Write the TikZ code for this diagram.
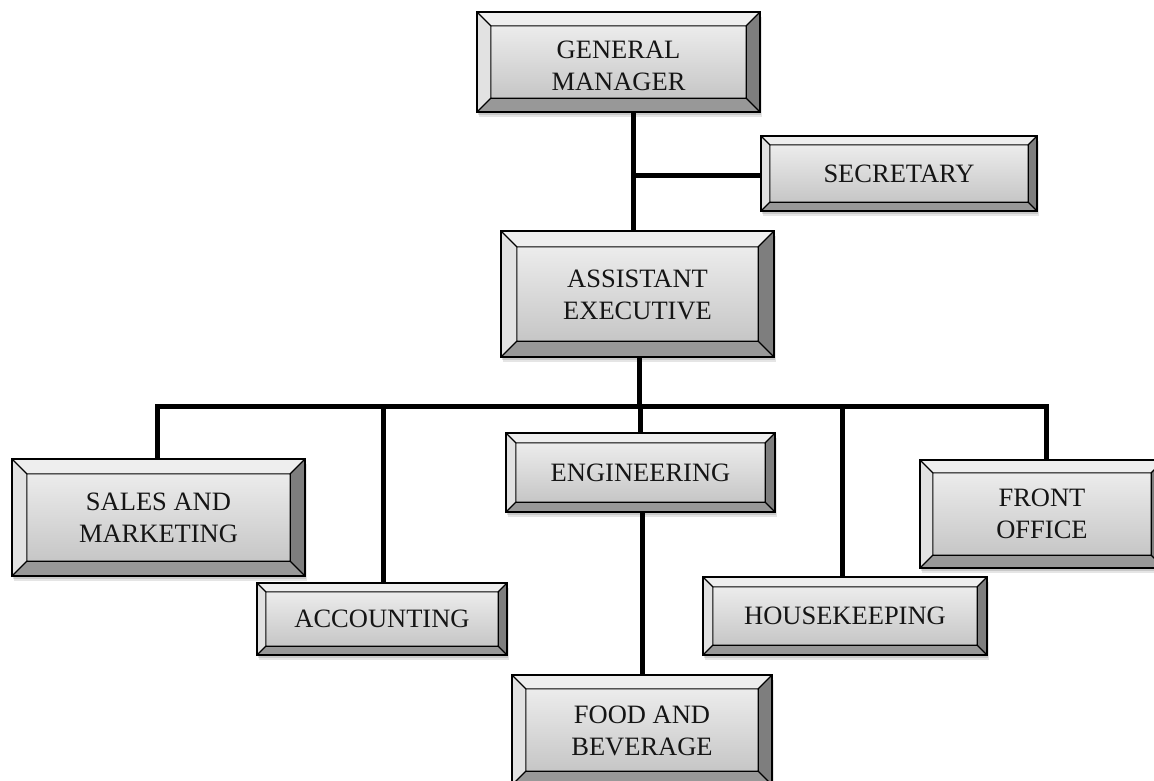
\documentclass[tikz,border=0pt]{standalone}
\usepackage{fontspec}
\setmainfont{Liberation Serif}
\usetikzlibrary{calc,backgrounds}
\pgfdeclarelayer{conn}
\pgfdeclarelayer{bev}
\pgfsetlayers{conn,bev,main}
\definecolor{bvtop}{HTML}{EEEEEE}
\definecolor{bvleft}{HTML}{E2E2E2}
\definecolor{bvright}{HTML}{7E7E7E}
\definecolor{bvbot}{HTML}{989898}
\definecolor{facetop}{HTML}{ECECEC}
\definecolor{facebot}{HTML}{C6C6C6}
\definecolor{txt}{HTML}{151515}
\tikzset{
  boxtext/.style={draw=none, inner sep=0pt, align=center, text=txt,
    font=\fontsize{26.5}{32}\selectfont},
  conn/.style={line width=5pt, line join=miter, draw=black},
  bvline/.style={draw=black, line width=1.1pt, line join=miter},
  bvouter/.style={draw=black, line width=1.6pt, line join=miter}
}
% #1 name, #2,#3 centre, #4 width, #5 height, #6 bevel, #7 text, #8 text shift
\newcommand\bx[8]{%
  \node[boxtext, minimum width=#4pt, minimum height=#5pt, text depth=0pt] (#1) at (#2,#3) {};
  \node[boxtext] (#1-t) at ($(#1.center)+(0,#8)$) {#7};
  \begin{pgfonlayer}{bev}
    \fill[black, opacity=.10] ($(#1.north west)+(2pt,-5pt)$) rectangle ($(#1.south east)+(2pt,-5pt)$);
    \fill[black, opacity=.12] ($(#1.north west)+(1pt,-3pt)$) rectangle ($(#1.south east)+(1pt,-3pt)$);
    \coordinate (#1-a) at (#1.north west);
    \coordinate (#1-b) at (#1.north east);
    \coordinate (#1-c) at (#1.south east);
    \coordinate (#1-d) at (#1.south west);
    \coordinate (#1-ia) at ($(#1-a)+(#6pt,-#6pt)$);
    \coordinate (#1-ib) at ($(#1-b)+(-#6pt,-#6pt)$);
    \coordinate (#1-ic) at ($(#1-c)+(-#6pt,#6pt)$);
    \coordinate (#1-id) at ($(#1-d)+(#6pt,#6pt)$);
    \fill[bvtop] (#1-a) -- (#1-b) -- (#1-ib) -- (#1-ia) -- cycle;
    \fill[bvleft] (#1-a) -- (#1-ia) -- (#1-id) -- (#1-d) -- cycle;
    \fill[bvright] (#1-b) -- (#1-c) -- (#1-ic) -- (#1-ib) -- cycle;
    \fill[bvbot] (#1-d) -- (#1-id) -- (#1-ic) -- (#1-c) -- cycle;
    \shade[top color=facetop, bottom color=facebot] (#1-ia) rectangle (#1-ic);
    \draw[bvline] (#1-ia) rectangle (#1-ic)
      (#1-a) -- (#1-ia) (#1-b) -- (#1-ib) (#1-c) -- (#1-ic) (#1-d) -- (#1-id);
    \draw[bvouter] (#1-a) rectangle (#1-c);
  \end{pgfonlayer}
}
\begin{document}
\begin{tikzpicture}[x=1pt,y=-1pt]
\useasboundingbox (0,0) rectangle (1154,780);
\bx{gm}{618.5}{62}{283}{100}{14}{GENERAL\\MANAGER}{4}
\bx{sec}{899}{173.5}{276}{75}{9}{SECRETARY}{0}
\bx{ae}{637.5}{294}{273}{126}{16}{ASSISTANT\\EXECUTIVE}{1}
\bx{sm}{158.5}{517.5}{293}{117}{15}{SALES AND\\MARKETING}{0}
\bx{eng}{640.5}{472.5}{269}{79}{10}{ENGINEERING}{0}
\bx{fo}{1042}{514}{244}{108}{13}{FRONT\\OFFICE}{0}
\bx{acc}{382}{619}{250}{72}{9}{ACCOUNTING}{0}
\bx{hk}{845}{616}{284}{78}{10}{HOUSEKEEPING}{0}
\bx{fb}{642}{730}{260}{110}{14}{FOOD AND\\BEVERAGE}{1}
\begin{pgfonlayer}{conn}
  \coordinate (j1) at (633,175);
  \draw[conn] (gm.south -| j1) -- (ae.north -| j1);
  \draw[conn] (j1) -- (sec.west |- j1);
  \coordinate (b0) at (639,406);
  \draw[conn] (ae.south -| b0) -- (b0);
  \coordinate (bl) at (157,406);
  \coordinate (br) at (1046,406);
  \draw[conn] (sm.north -| bl) -- (bl) -- (br) -- (fo.north -| br);
  \coordinate (ba) at (383,406);
  \coordinate (bh) at (842,406);
  \coordinate (be) at (640,406);
  \draw[conn] (acc.north -| ba) -- (ba);
  \draw[conn] (hk.north -| bh) -- (bh);
  \draw[conn] (eng.north -| be) -- (be);
  \coordinate (fl) at (642,600);
  \draw[conn] (eng.south -| fl) -- (fb.north -| fl);
\end{pgfonlayer}
\end{tikzpicture}
\end{document}
